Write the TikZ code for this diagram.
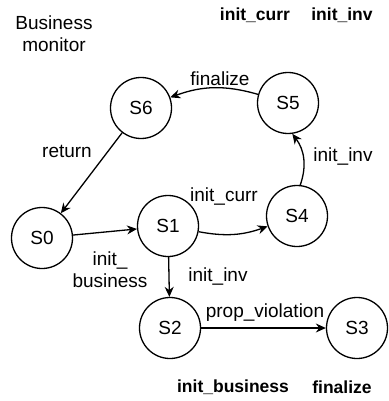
\documentclass[tikz,border=0pt]{standalone}
\usepackage{fontspec}
\setmainfont{Liberation Sans}
\usetikzlibrary{arrows.meta}
\begin{document}
\begin{tikzpicture}[x=1pt,y=-1pt,
  state/.style={circle,draw,line width=1.3pt,minimum size=61pt,inner sep=0pt,font=\fontsize{19}{21}\selectfont},
  lbl/.style={font=\fontsize{19}{22}\selectfont,inner sep=0pt,align=center},
  blbl/.style={font=\fontsize{17.5}{21}\selectfont\bfseries,inner sep=0pt},
  edge/.style={line width=1.3pt,-{Stealth[length=10pt,width=9pt]}}]
\useasboundingbox (0,0) rectangle (388,401);
\node[state] (S6) at (141,108) {S6};
\node[state] (S5) at (288,103) {S5};
\node[state] (S0) at (42,238) {S0};
\node[state] (S1) at (168,226) {S1};
\node[state] (S4) at (297,216) {S4};
\node[state] (S2) at (170,328) {S2};
\node[state] (S3) at (357,328) {S3};
\node[lbl] (tb) at (54,34) {Business\\monitor};
\node[blbl] (t1) at (255,15) {init\_curr};
\node[blbl] (t2) at (342,15) {init\_inv};
\node[blbl] (t3) at (233,387) {init\_business};
\node[blbl] (t4) at (342,387) {finalize};
\draw[edge] (S5) to[bend right=18] (S6);
\node[lbl] (e1) at (220,79) {finalize};
\draw[edge] (S6) -- (S0);
\node[lbl] (e2) at (67,151) {return};
\draw[edge] (S0) -- (S1);
\node[lbl] (e3) at (110,270) {init\_\\business};
\draw[edge] (S1) to[bend right=15] (S4);
\node[lbl] (e4) at (224,197) {init\_curr};
\draw[edge] (S4.84) to[bend right=28] (S5.-82);
\node[lbl] (e5) at (343,157) {init\_inv};
\draw[edge] (S1) -- (S2);
\node[lbl] (e6) at (218,277) {init\_inv};
\draw[edge] (S2) -- (S3);
\node[lbl] (e7) at (265,313) {prop\_violation};
\end{tikzpicture}
\end{document}
